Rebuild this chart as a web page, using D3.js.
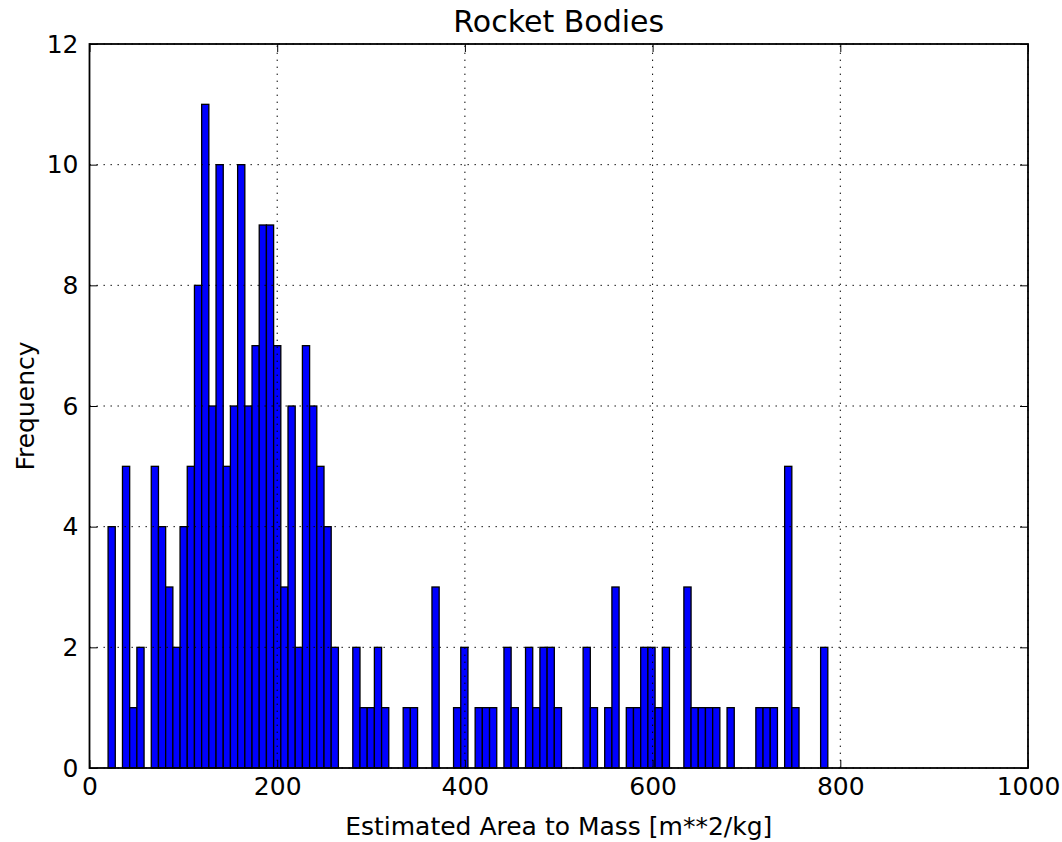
<!DOCTYPE html>
<html>
<head>
<meta charset="utf-8">
<script src="https://cdn.jsdelivr.net/npm/d3@7"></script>
<style>
  html, body { margin: 0; padding: 0; background: #fff; }
  svg { display: block; }
  text { font-family: "DejaVu Sans", sans-serif; fill: #000; }
</style>
</head>
<body>
<svg id="chart" width="1062" height="842"></svg>
<script>
// Histogram of estimated area-to-mass ratio for rocket bodies (100 equal bins)
const binMin = 19.8;
const binMax = 786.7;
const binCount = 100;
const counts = [
  4, 0, 5, 1, 2, 0, 5, 4, 3, 2,
  4, 5, 8, 11, 6, 10, 5, 6, 10, 6,
  7, 9, 9, 7, 3, 6, 2, 7, 6, 5,
  4, 2, 0, 0, 2, 1, 1, 2, 1, 0,
  0, 1, 1, 0, 0, 3, 0, 0, 1, 2,
  0, 1, 1, 1, 0, 2, 1, 0, 2, 1,
  2, 2, 1, 0, 0, 0, 2, 1, 0, 1,
  3, 0, 1, 1, 2, 2, 1, 2, 0, 0,
  3, 1, 1, 1, 1, 0, 1, 0, 0, 0,
  1, 1, 1, 0, 5, 1, 0, 0, 0, 2
];
const xTicks = [0, 200, 400, 600, 800, 1000];
const yTicks = [0, 2, 4, 6, 8, 10, 12];
const titleText = "Rocket Bodies";
const xLabel = "Estimated Area to Mass [m**2/kg]";
const yLabel = "Frequency";

const plotLeft = 89.5, plotRight = 1028, plotTop = 44, plotBottom = 768;
const svg = d3.select("#chart");

const x = d3.scaleLinear().domain([0, 1000]).range([plotLeft, plotRight]);
const y = d3.scaleLinear().domain([0, 12]).range([plotBottom, plotTop]);

const step = (binMax - binMin) / binCount;
const bins = counts.map((c, i) => ({ x0: binMin + i * step, x1: binMin + (i + 1) * step, n: c }));

// bars
svg.append("g")
  .selectAll("rect")
  .data(bins.filter(d => d.n > 0))
  .join("rect")
  .attr("x", d => x(d.x0))
  .attr("width", d => x(d.x1) - x(d.x0))
  .attr("y", d => y(d.n))
  .attr("height", d => y(0) - y(d.n))
  .attr("fill", "#0000ff")
  .attr("stroke", "#000")
  .attr("stroke-width", 1.3);

// dotted grid, drawn over the bars
const grid = svg.append("g")
  .attr("stroke", "#000")
  .attr("stroke-width", 1)
  .attr("stroke-dasharray", "1.4,5.6");
grid.selectAll("line.gx").data(xTicks).join("line")
  .attr("class", "gx")
  .attr("x1", d => x(d)).attr("x2", d => x(d))
  .attr("y1", plotBottom).attr("y2", plotTop);
grid.selectAll("line.gy").data(yTicks).join("line")
  .attr("class", "gy")
  .attr("x1", plotLeft).attr("x2", plotRight)
  .attr("y1", d => y(d)).attr("y2", d => y(d));

// axes with inward ticks on all four sides
const tickLen = 8;
function styleAxis(g, showLabels) {
  g.select(".domain").remove();
  g.selectAll(".tick line").attr("stroke", "#000").attr("stroke-width", 1);
  g.selectAll(".tick text").attr("font-size", 25).attr("font-family", "DejaVu Sans");
  if (!showLabels) g.selectAll(".tick text").remove();
}
svg.append("g").attr("transform", `translate(0,${plotBottom})`)
  .call(d3.axisBottom(x).tickValues(xTicks).tickSizeInner(-tickLen).tickSizeOuter(0).tickPadding(9).tickFormat(d3.format("d")))
  .call(g => styleAxis(g, true));
svg.append("g").attr("transform", `translate(0,${plotTop})`)
  .call(d3.axisTop(x).tickValues(xTicks).tickSizeInner(-tickLen).tickSizeOuter(0))
  .call(g => styleAxis(g, false));
svg.append("g").attr("transform", `translate(${plotLeft},0)`)
  .call(d3.axisLeft(y).tickValues(yTicks).tickSizeInner(-tickLen).tickSizeOuter(0).tickPadding(11).tickFormat(d3.format("d")))
  .call(g => styleAxis(g, true));
svg.append("g").attr("transform", `translate(${plotRight},0)`)
  .call(d3.axisRight(y).tickValues(yTicks).tickSizeInner(-tickLen).tickSizeOuter(0))
  .call(g => styleAxis(g, false));

// frame
svg.append("rect")
  .attr("x", plotLeft).attr("y", plotTop)
  .attr("width", plotRight - plotLeft).attr("height", plotBottom - plotTop)
  .attr("fill", "none").attr("stroke", "#000").attr("stroke-width", 1.8);

// title and axis labels
svg.append("text")
  .attr("x", (plotLeft + plotRight) / 2).attr("y", 32)
  .attr("text-anchor", "middle").attr("font-size", 30)
  .text(titleText);
svg.append("text")
  .attr("x", (plotLeft + plotRight) / 2).attr("y", 835)
  .attr("text-anchor", "middle").attr("font-size", 25)
  .text(xLabel);
svg.append("text")
  .attr("transform", `translate(34,${(plotTop + plotBottom) / 2}) rotate(-90)`)
  .attr("text-anchor", "middle").attr("font-size", 25)
  .text(yLabel);
</script>
</body>
</html>
